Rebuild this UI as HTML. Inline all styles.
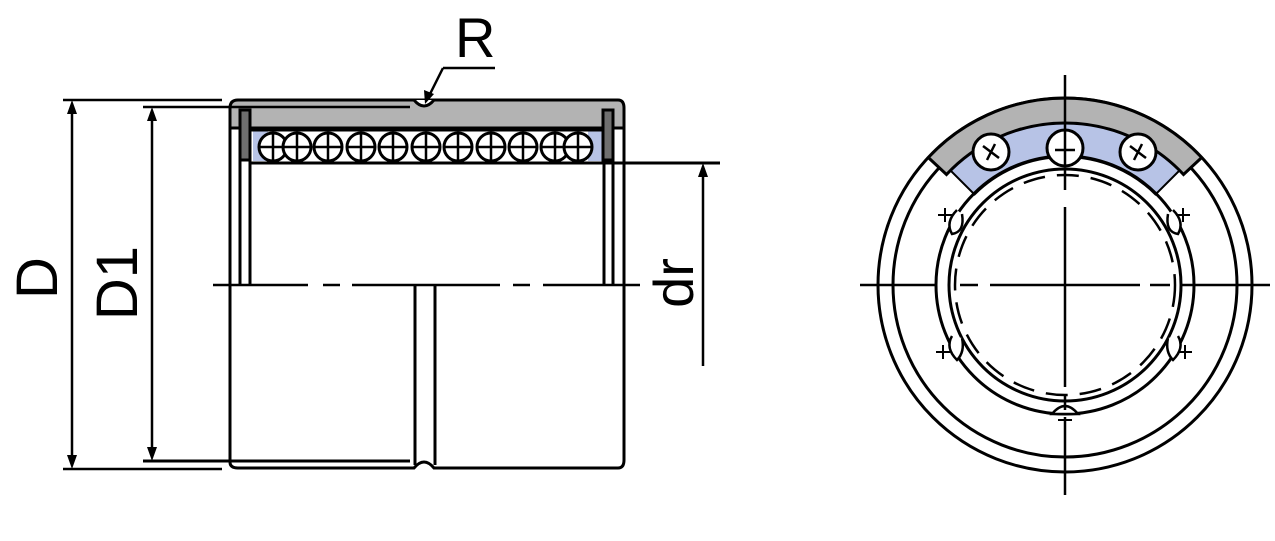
<!DOCTYPE html>
<html><head><meta charset="utf-8"><style>
html,body{margin:0;padding:0;background:#fff;}
svg{display:block;}
text{font-family:"Liberation Sans",sans-serif;fill:#000;}
</style></head><body>
<svg width="1275" height="541" viewBox="0 0 1275 541" xmlns="http://www.w3.org/2000/svg">
<defs>
<g id="ball"><circle r="14" fill="#fff" stroke="#000" stroke-width="3"/><path d="M-14 0H14M0 -14V14" stroke="#000" stroke-width="2.5"/></g>
</defs>
<!-- LEFT VIEW -->
<g stroke="#000" fill="none" stroke-width="3">
<path d="M238 100 H618 Q624 100 624 108 V128 H230 V108 Q230 100 238 100Z" fill="#b3b3b3"/>
<path d="M414 100 Q424 112 434 100" fill="#fff" stroke-width="3"/>
<rect x="250" y="130" width="354" height="33" fill="#fff" stroke="none"/>
<rect x="253" y="131" width="15" height="30" fill="#b7c3e6" stroke="none"/>
<rect x="588" y="131" width="15" height="30" fill="#b7c3e6" stroke="none"/>
<path d="M250 130 H604"/>
<path d="M250 163 H720"/>
</g>
<g transform="translate(0,147)">
<use href="#ball" x="273"/><use href="#ball" x="297"/><use href="#ball" x="328"/><use href="#ball" x="361"/><use href="#ball" x="393"/><use href="#ball" x="426"/><use href="#ball" x="458"/><use href="#ball" x="491"/><use href="#ball" x="523"/><use href="#ball" x="555"/><use href="#ball" x="578"/>
</g>
<g stroke="#000" fill="none" stroke-width="3">
<rect x="240" y="110" width="10" height="50" fill="#6f6f6f"/>
<rect x="603" y="110" width="10" height="50" fill="#6f6f6f"/>
<path d="M230 108 V285 M240 160 V285 M250 160 V285 M604 160 V285 M613 160 V285 M624 108 V285"/>
<path d="M230 285 V462 Q230 468 238 468 H414 Q424 456 434 468 H618 Q624 468 624 460 V285"/>
<path d="M415 285 V465 M435 285 V465"/>
<path d="M143 461 H410"/>
<!-- centerline -->
<path d="M213 285 H308 M323 285 H340 M352 285 H500 M513 285 H530 M543 285 H640" stroke-width="2.5"/>
<path d="M63 100 H222 M63 469 H222 M143 107 H410" stroke-width="2.5"/>
<path d="M72 108 V461 M152 115 V453" stroke-width="2.5"/>
<path d="M703 172 V366" stroke-width="2.5"/>
<path d="M443 68 H495 M443 68 L429 96" stroke-width="2.5"/>
</g>
<g fill="#000">
<path d="M72 100 L67 114 H77Z M72 469 L67 455 H77Z"/>
<path d="M152 107 L147 121 H157Z M152 461 L147 447 H157Z"/>
<path d="M703 163 L698 177 H708Z"/>
<path d="M425 104 L424 90 L434 94Z"/>
</g>
<text x="455" y="57" font-size="56">R</text>
<text transform="translate(57,278) rotate(-90)" font-size="58" text-anchor="middle">D</text>
<text transform="translate(137,283) rotate(-90)" font-size="58" text-anchor="middle">D1</text>
<text transform="translate(693,283) rotate(-90)" font-size="56" text-anchor="middle">dr</text>

<!-- RIGHT VIEW -->
<g stroke="#000" fill="none" stroke-width="3">
<circle cx="1065" cy="285" r="187"/>
<circle cx="1065" cy="285" r="172"/>
<path d="M950.5 170.5 A162 162 0 0 1 1179.5 170.5 L1155.5 194.5 A128 128 0 0 0 974.5 194.5Z" fill="#b7c3e6" stroke-width="2"/>
<path d="M928.3 157.5 A187 187 0 0 1 1201.7 157.5 L1183.5 174.5 A162 162 0 0 0 946.5 174.5Z" fill="#b3b3b3"/>
<circle cx="1065" cy="285" r="129"/>
<circle cx="1065" cy="285" r="116"/>
<circle cx="1065" cy="285" r="110" stroke-width="2.5" stroke-dasharray="22 12"/>
<circle cx="991" cy="152" r="18" fill="#fff"/>
<circle cx="1065" cy="148" r="18" fill="#fff"/>
<circle cx="1138" cy="152" r="18" fill="#fff"/>
<path d="M983 146 L999 158 M995 144 L987 160 M1130 146 L1146 158 M1142 144 L1134 160 M1055 150 H1075 M1065 130 V166" stroke-width="2.5"/>
<path d="M957 210 Q945 222 952 234 Q965 232 962 214" fill="#fff" stroke-width="2.5"/>
<path d="M1173 210 Q1185 222 1178 234 Q1165 232 1168 214" fill="#fff" stroke-width="2.5"/>
<path d="M952 336 Q945 348 957 360 Q965 352 962 338" fill="#fff" stroke-width="2.5"/>
<path d="M1178 336 Q1185 348 1173 360 Q1165 352 1168 338" fill="#fff" stroke-width="2.5"/>
<path d="M1052 414 Q1065 398 1078 414Z" fill="#fff" stroke-width="2.5"/>
<path d="M938 215 H952 M945 208 V222 M1176 215 H1190 M1183 208 V222 M936 352 H950 M943 345 V359 M1178 352 H1192 M1185 345 V359 M1058 420 H1072" stroke-width="2"/>
<!-- axes -->
<path d="M860 285 H935 M960 285 H978 M990 285 H1140 M1150 285 H1170 M1180 285 H1270" stroke-width="2.5"/>
<path d="M1065 75 V130 M1065 170 V190 M1065 207 V387 M1065 395 V410 M1065 417 V495" stroke-width="2.5"/>
</g>
</svg>
</body></html>
